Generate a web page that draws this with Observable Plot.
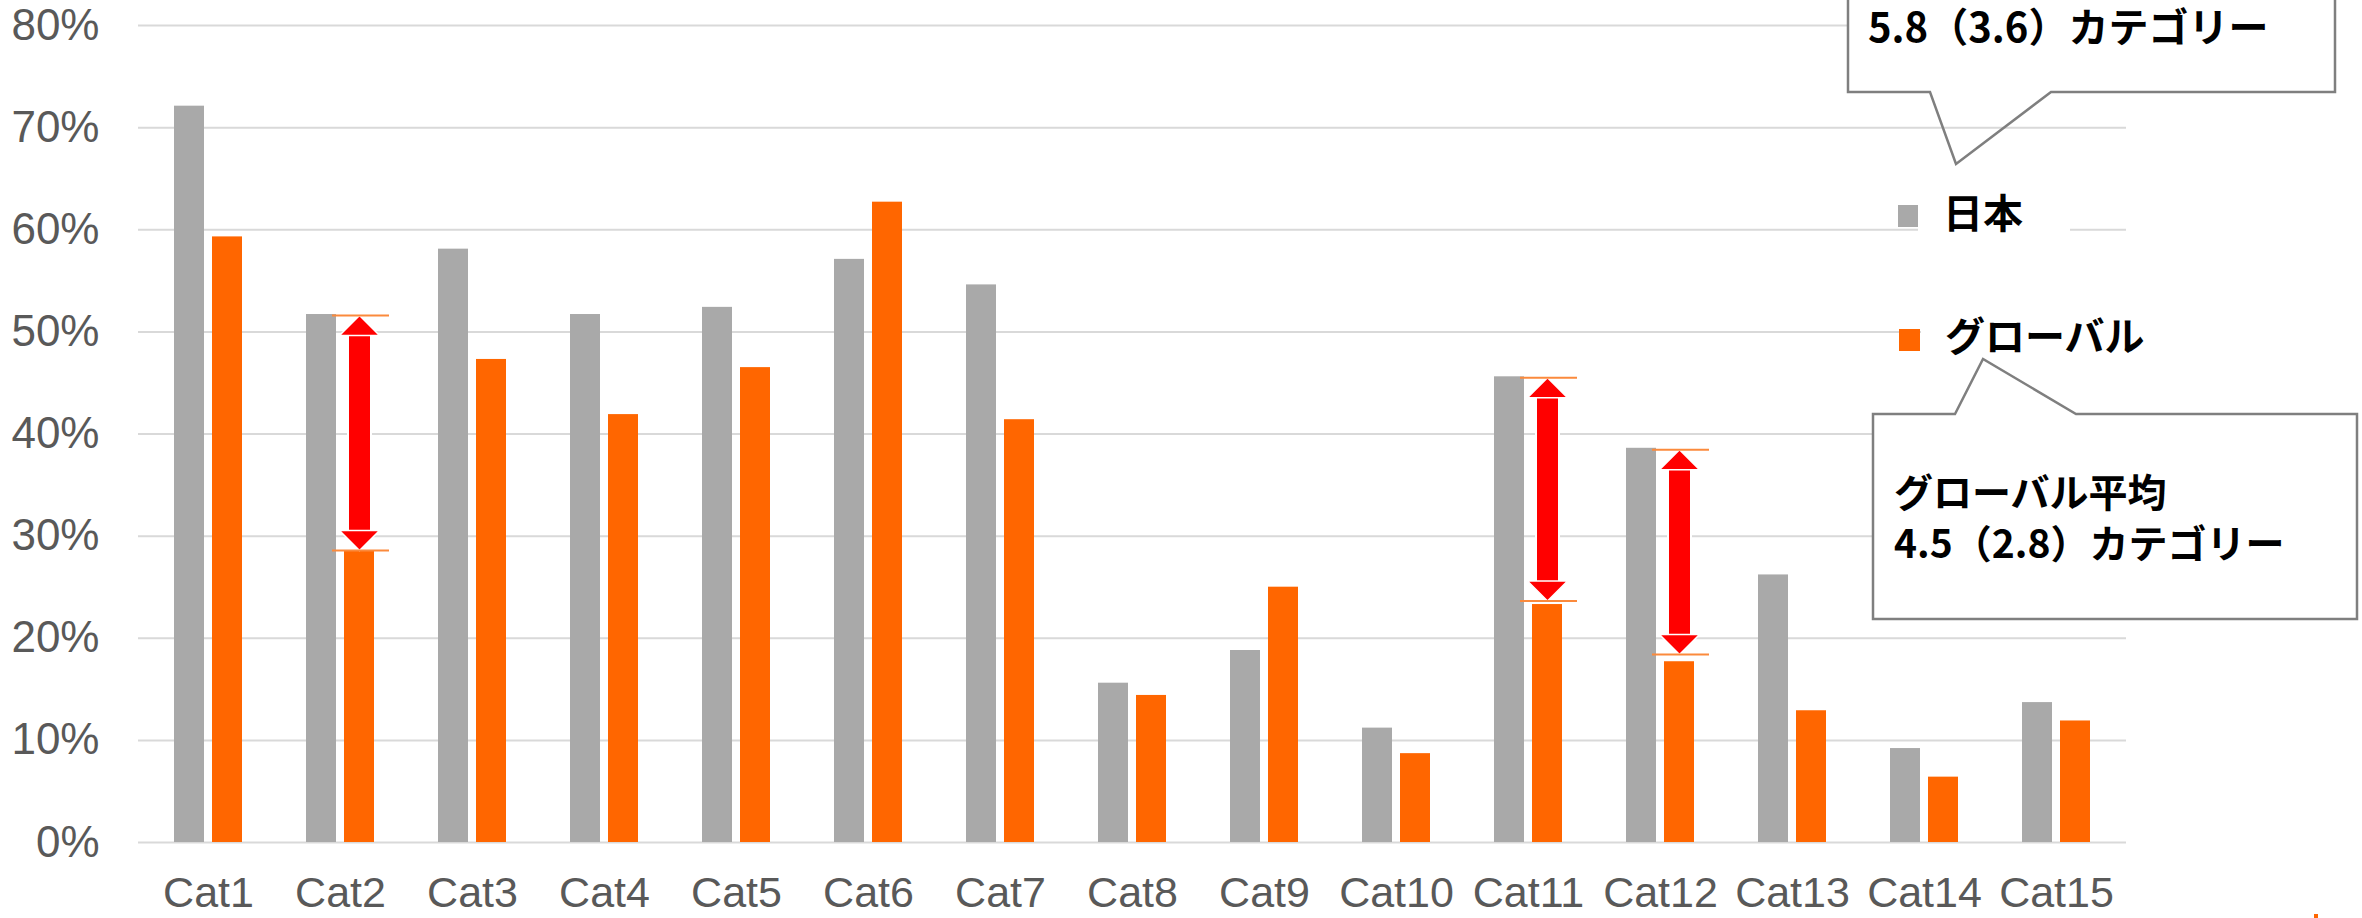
<!DOCTYPE html>
<html>
<head>
<meta charset="utf-8">
<script src="https://cdn.jsdelivr.net/npm/d3@7"></script>
<script src="https://cdn.jsdelivr.net/npm/@observablehq/plot@0.6"></script>
<style>
  html, body { margin: 0; padding: 0; background: #ffffff; }
  #chart svg { display: block; }
</style>
</head>
<body>
<div id="chart"></div>
<script>
// ---- data ----
const categories = ["Cat1","Cat2","Cat3","Cat4","Cat5","Cat6","Cat7","Cat8","Cat9","Cat10","Cat11","Cat12","Cat13","Cat14","Cat15"];
const seriesNames = ["日本", "グローバル"];
const japanValues  = [72.1, 51.7, 58.1, 51.7, 52.4, 57.1, 54.6, 15.6, 18.8, 11.2, 45.6, 38.6, 26.2, 9.2, 13.7];
const globalValues = [59.3, 28.5, 47.3, 41.9, 46.5, 62.7, 41.4, 14.4, 25.0,  8.7, 23.3, 17.7, 12.9, 6.4, 11.9];
const yTicks = [0, 10, 20, 30, 40, 50, 60, 70, 80];
const arrowCats   = ["Cat2", "Cat11", "Cat12"];
const arrowTop    = [51.6, 45.5, 38.45];
const arrowBottom = [28.6, 23.65, 18.4];
const calloutJapan  = ["5.8（3.6）カテゴリー"];
const calloutGlobal = ["グローバル平均", "4.5（2.8）カテゴリー"];

// ---- tables built from the arrays ----
const japanRows  = categories.map((c, i) => ({cat: c, value: japanValues[i]}));
const globalRows = categories.map((c, i) => ({cat: c, value: globalValues[i]}));
const arrows = arrowCats.map((c, i) => ({cat: c, top: arrowTop[i], bottom: arrowBottom[i]}));

const GRAY = "#a9a9a9", ORANGE = "#ff6600";

const headUp = {draw(ctx) { ctx.moveTo(0, 0); ctx.lineTo(20, 20); ctx.lineTo(-20, 20); ctx.closePath(); }};
const headDown = {draw(ctx) { ctx.moveTo(0, 0); ctx.lineTo(20, -20); ctx.lineTo(-20, -20); ctx.closePath(); }};

const chart = Plot.plot({
  width: 2362,
  height: 918,
  marginLeft: 138,
  marginRight: 236,
  marginTop: 25,
  marginBottom: 76,
  style: {fontFamily: '"Liberation Sans", Arial, sans-serif', fontSize: "42px", color: "#595959", background: "#ffffff"},
  x: {domain: categories, padding: 0, label: null},
  y: {domain: [0, 80], label: null},
  marks: [
    Plot.gridY({ticks: yTicks, stroke: "#d9d9d9", strokeOpacity: 1, strokeWidth: 2}),
    Plot.axisY({ticks: yTicks, tickSize: 0, tickPadding: 39, tickFormat: d => d + "%", fill: "#595959", fontSize: 44, label: null}),
    Plot.axisX({tickSize: 0, tickPadding: 34, fill: "#595959", fontSize: 43, label: null}),
    Plot.barY(japanRows, {x: "cat", y: "value", fill: GRAY, insetLeft: 32, insetRight: 70}),
    Plot.barY(globalRows, {x: "cat", y: "value", fill: ORANGE, insetLeft: 70, insetRight: 32}),
    Plot.ruleX(arrows, {x: "cat", y1: "top", y2: "bottom", dx: 19, stroke: "#ffffff", strokeWidth: 25, insetTop: 18, insetBottom: 18}),
    Plot.ruleX(arrows, {x: "cat", y1: "top", y2: "bottom", dx: 19, stroke: "#ff0000", strokeWidth: 21, insetTop: 17, insetBottom: 17}),
    Plot.dot(arrows, {x: "cat", y: "top", dx: 19, symbol: headUp, fill: "#ff0000", stroke: "#ffffff", strokeWidth: 1.5}),
    Plot.dot(arrows, {x: "cat", y: "bottom", dx: 19, symbol: headDown, fill: "#ff0000", stroke: "#ffffff", strokeWidth: 1.5}),
    Plot.tickY(arrows, {x: "cat", y: "top", stroke: "#fb8a3c", strokeWidth: 2, insetLeft: 58, insetRight: 17}),
    Plot.tickY(arrows, {x: "cat", y: "bottom", stroke: "#fb8a3c", strokeWidth: 2, insetLeft: 58, insetRight: 17})
  ]
});

document.getElementById("chart").appendChild(chart);

// ---- overlay: legend and callouts ----
const svg = d3.select(chart);
const jaFont = '"Noto Sans CJK JP", "Noto Sans", sans-serif';
const ov = svg.append("g").attr("text-anchor", "start");

function label(x, y, size, t) {
  ov.append("text").attr("x", x).attr("y", y).attr("text-anchor", "start")
    .attr("font-family", jaFont).attr("font-weight", 700)
    .attr("font-size", size).attr("fill", "#000000").text(t);
}

// legend
const legendItems = [
  {name: seriesNames[0], color: GRAY,   sq: [1898, 205, 20, 22], bg: [1918, 182, 152, 60], tx: [1943, 228]},
  {name: seriesNames[1], color: ORANGE, sq: [1899, 329, 21, 22], bg: [1921, 300, 230, 56], tx: [1945, 351]}
];
legendItems.forEach(d => {
  ov.append("rect").attr("x", d.bg[0]).attr("y", d.bg[1]).attr("width", d.bg[2]).attr("height", d.bg[3]).attr("fill", "#ffffff");
  ov.append("rect").attr("x", d.sq[0]).attr("y", d.sq[1]).attr("width", d.sq[2]).attr("height", d.sq[3]).attr("fill", d.color);
  label(d.tx[0], d.tx[1], 40, d.name);
});

// top callout (box continues above the picture)
ov.append("rect").attr("x", 1848).attr("y", -30).attr("width", 487).attr("height", 122).attr("fill", "#ffffff");
ov.append("path")
  .attr("d", "M1848,-30 L1848,92 L1930,92 L1956,164 L2051,92 L2335,92 L2335,-30")
  .attr("fill", "none").attr("stroke", "#7f7f7f").attr("stroke-width", 2.5);
label(1868, 42, 40, calloutJapan[0]);

// bottom callout
ov.append("path")
  .attr("d", "M1873,414 L1955,414 L1983,359 L2076,414 L2357,414 L2357,619 L1873,619 Z")
  .attr("fill", "#ffffff").attr("stroke", "#7f7f7f").attr("stroke-width", 2.5);
calloutGlobal.forEach((t, i) => label(1894, 507 + i * 51, 39, t));

// tiny orange mark at the bottom right
ov.append("rect").attr("x", 2314).attr("y", 914).attr("width", 4).attr("height", 4).attr("fill", ORANGE);
</script>
</body>
</html>
